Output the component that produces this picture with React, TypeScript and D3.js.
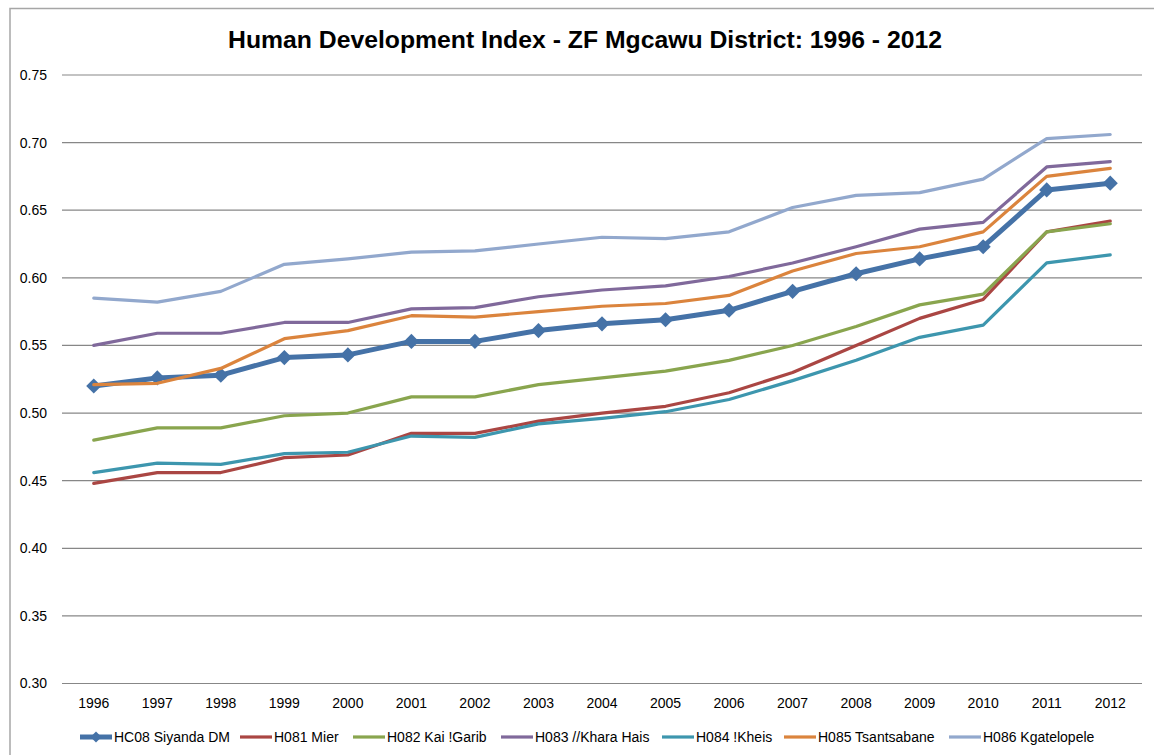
import React from "react";
import * as d3 from "d3";

const years = ["1996","1997","1998","1999","2000","2001","2002","2003","2004","2005","2006","2007","2008","2009","2010","2011","2012"];
const yTicks = [0.30,0.35,0.40,0.45,0.50,0.55,0.60,0.65,0.70,0.75];
const seriesNames = ["HC08 Siyanda DM","H081 Mier","H082 Kai !Garib","H083 //Khara Hais","H084 !Kheis","H085 Tsantsabane","H086 Kgatelopele"];
const siyanda = [0.520,0.526,0.528,0.541,0.543,0.553,0.553,0.561,0.566,0.569,0.576,0.590,0.603,0.614,0.623,0.665,0.670];
const mier = [0.448,0.456,0.456,0.467,0.469,0.485,0.485,0.494,0.500,0.505,0.515,0.530,0.550,0.570,0.584,0.634,0.642];
const kaiGarib = [0.480,0.489,0.489,0.498,0.500,0.512,0.512,0.521,0.526,0.531,0.539,0.550,0.564,0.580,0.588,0.634,0.640];
const kharaHais = [0.550,0.559,0.559,0.567,0.567,0.577,0.578,0.586,0.591,0.594,0.601,0.611,0.623,0.636,0.641,0.682,0.686];
const kheis = [0.456,0.463,0.462,0.470,0.471,0.483,0.482,0.492,0.496,0.501,0.510,0.524,0.539,0.556,0.565,0.611,0.617];
const tsantsabane = [0.521,0.522,0.533,0.555,0.561,0.572,0.571,0.575,0.579,0.581,0.587,0.605,0.618,0.623,0.634,0.675,0.681];
const kgatelopele = [0.585,0.582,0.590,0.610,0.614,0.619,0.620,0.625,0.630,0.629,0.634,0.652,0.661,0.663,0.673,0.703,0.706];

const seriesValues = [siyanda, mier, kaiGarib, kharaHais, kheis, tsantsabane, kgatelopele];
const colors = ["#4572A7","#AA4643","#89A54E","#80699B","#3D96AE","#DB843D","#92A8CD"];
const legendX = [80, 240, 353, 501, 662, 784, 949];

const W = 1154, H = 755;
const FONT = "'Liberation Sans', Arial, sans-serif";

export default function App() {
  const x = d3.scaleBand<string>().domain(years).range([62, 1142]);
  const cx = (yr: string) => (x(yr) as number) + x.bandwidth() / 2;
  const y = d3.scaleLinear().domain([0.30, 0.75]).range([683.5, 75]);
  const line = d3.line<number>().x((_, i) => cx(years[i])).y((d) => y(d));
  const diamond = d3.symbol().type(d3.symbolSquare).size(115)();

  return (
    <svg width={W} height={H} style={{ position: "absolute", left: 0, top: 0, background: "#fff" }}>
      <rect x={10} y={8.5} width={1300} height={900} fill="#fff" stroke="#a6a6a6" strokeWidth={1.5} />
      <text x={585} y={48} textAnchor="middle" fontFamily={FONT} fontWeight="bold" fontSize={23}
        textLength={714} lengthAdjust="spacingAndGlyphs" fill="#000">
        Human Development Index - ZF Mgcawu District: 1996 - 2012
      </text>
      {yTicks.map((t) => (
        <g key={t}>
          <line x1={62} x2={1142} y1={y(t)} y2={y(t)} stroke="#878787" strokeWidth={1.2} />
          <text x={47} y={y(t)} dy="0.35em" textAnchor="end" fontFamily={FONT} fontSize={14} fill="#000">
            {d3.format(".2f")(t)}
          </text>
        </g>
      ))}
      {years.map((yr) => (
        <text key={yr} x={cx(yr)} y={703} dy="0.35em" textAnchor="middle" fontFamily={FONT} fontSize={14} fill="#000">
          {yr}
        </text>
      ))}
      {seriesValues.map((vals, si) => (
        <g key={seriesNames[si]}>
          <path d={line(vals) || ""} fill="none" stroke={colors[si]} strokeWidth={si === 0 ? 5 : 3.2}
            strokeLinejoin="round" strokeLinecap="round" />
          {si === 0 && vals.map((v, i) => (
            <path key={i} d={diamond || ""} transform={`translate(${cx(years[i])},${y(v)}) rotate(45)`} fill={colors[0]} />
          ))}
        </g>
      ))}
      {seriesNames.map((name, si) => (
        <g key={name} transform={`translate(${legendX[si]},737)`}>
          <line x1={0} x2={32} y1={0} y2={0} stroke={colors[si]} strokeWidth={si === 0 ? 5 : 3.2} />
          {si === 0 && (
            <path d={d3.symbol().type(d3.symbolSquare).size(60)() || ""} transform="translate(16,0) rotate(45)" fill={colors[0]} />
          )}
          <text x={34} y={0} dy="0.35em" fontFamily={FONT} fontSize={14} fill="#000">{name}</text>
        </g>
      ))}
    </svg>
  );
}
